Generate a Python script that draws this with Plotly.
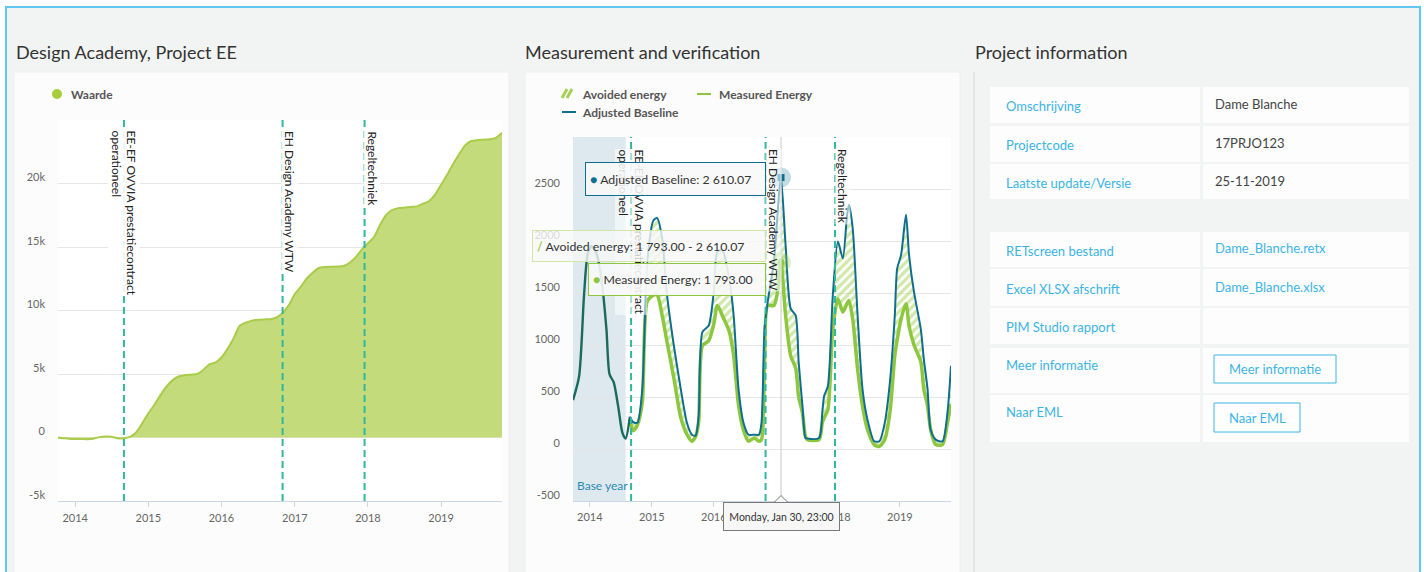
import plotly.graph_objects as go
import pandas as pd

W, H = 1424, 572
def px(x): return x / W
def py(y): return 1 - y / H

FONT = "Lato, 'Open Sans', sans-serif"

# ---------------- data: left chart (cumulative value, monthly) ----------------
waarde_values = [
    0, -50, -100,
    -120, -120, -130, -100, 30, 80, 60, -60, -60, 50, 400, 1100,
    1900, 2600, 3300, 4000, 4500, 4800, 4900, 4950, 5000, 5300, 5750, 5900,
    6300, 7000, 7800, 8800, 9050, 9200, 9270, 9300, 9320, 9450, 9800, 10400,
    11300, 11900, 12500, 13000, 13350, 13420, 13440, 13460, 13500, 13750, 14200, 14800,
    15300, 15800, 16700, 17500, 17900, 18050, 18100, 18150, 18200, 18400, 18600, 19100,
    19900, 20700, 21500, 22300, 23000, 23350, 23420, 23450, 23480, 23600, 24000,
]
waarde_dates = pd.date_range("2013-10-01", periods=len(waarde_values), freq="MS")

# ---------------- data: middle chart (measurement & verification) -------------
mv_dates = [
    "2013-09-24", "2013-10-30", "2013-11-28", "2013-12-20", "2014-01-11", "2014-02-09",
    "2014-03-10", "2014-04-09", "2014-04-27", "2014-05-22", "2014-06-17", "2014-07-12",
    "2014-07-31", "2014-08-25", "2014-09-13", "2014-10-08", "2014-11-06", "2014-12-05",
    "2015-01-11", "2015-02-02", "2015-03-03", "2015-04-01", "2015-05-11", "2015-06-21",
    "2015-07-27", "2015-08-25", "2015-09-16", "2015-10-04", "2015-10-26", "2015-12-02",
    "2016-01-01", "2016-01-22", "2016-02-20", "2016-04-01", "2016-04-27", "2016-05-26",
    "2016-06-24", "2016-07-23", "2016-08-25", "2016-09-23", "2016-10-08", "2016-10-26",
    "2016-11-14", "2016-12-20", "2017-01-19", "2017-01-30 23:00", "2017-02-27", "2017-03-29",
    "2017-04-27", "2017-05-15", "2017-06-06", "2017-06-24", "2017-07-05", "2017-09-12",
    "2017-10-01", "2017-10-12", "2017-11-03", "2017-12-02", "2018-01-01", "2018-01-30",
    "2018-02-24", "2018-03-07", "2018-03-29", "2018-04-27", "2018-05-26", "2018-06-24",
    "2018-08-03", "2018-09-02", "2018-10-04", "2018-11-03", "2018-12-02", "2018-12-16",
    "2019-01-08", "2019-02-06", "2019-02-24", "2019-03-25", "2019-05-04", "2019-05-22",
    "2019-06-13", "2019-07-01", "2019-07-31", "2019-09-09", "2019-10-08", "2019-10-29",
]
adjusted_baseline = [
    470, 700, 1480, 1880, 1950, 1880,
    1640, 1150, 720, 640, 410, 155,
    100, 310, 258, 252, 574, 1800,
    2200, 2220, 2026, 1477, 993, 574,
    252, 138, 129, 316, 1123, 1187,
    1510, 1897, 1913, 1639, 1284, 574,
    252, 138, 138, 138, 252, 1155,
    1420, 1800, 2445, 2610.07, 1961, 1349,
    1284, 833, 420, 106, 100, 106,
    350, 509, 606, 1477, 1994, 1833,
    2252, 2349, 2123, 1284, 574, 284,
    74, 74, 252, 639, 1284, 1735,
    1865, 2252, 1865, 1510, 1155, 864,
    574, 187, 90, 74, 348, 800,
]
measured_energy = [
    None, None, None, None, None, None,
    None, None, None, None, None, None,
    None, 290, 175, 230, 450, 1420,
    1480, 1480, 1284, 1026, 680, 300,
    140, 74, 120, 260, 993, 1040,
    1200, 1380, 1284, 1130, 900, 420,
    180, 75, 106, 74, 90, 833,
    1380, 1380, 1600, 1793.00, 1284, 896,
    780, 500, 348, 120, 90, 90,
    252, 300, 380, 1155, 1445, 1316,
    1400, 1429, 1252, 768, 412, 187,
    42, 25, 90, 348, 896, 1050,
    1250, 1397, 1180, 1000, 840, 574,
    412, 187, 42, 42, 252, 430,
]

event_dates = ["2014-09-01", "2016-11-01", "2017-12-15"]
event_labels = ["EE-EF OVVIA prestatiecontract<br>operationeel", "EH Design Academy WTW", "Regeltechniek"]
base_year_end = "2014-07-31"
hover_date = "2017-01-30 23:00"

year_ticks = ["2014-01-01", "2015-01-01", "2016-01-01", "2017-01-01", "2018-01-01", "2019-01-01"]
year_labels = ["2014", "2015", "2016", "2017", "2018", "2019"]
left_yticks = [-5000, 0, 5000, 10000, 15000, 20000, 25000]
left_ylabels = ["-5k", "0", "5k", "10k", "15k", "20k", ""]
mid_yticks = [-500, 0, 500, 1000, 1500, 2000, 2500, 3000]
mid_ylabels = ["-500", "0", "500", "1000", "1500", "2000", "2500", ""]

info_rows_1 = [("Omschrijving", "Dame Blanche"), ("Projectcode", "17PRJO123"),
               ("Laatste update/Versie", "25-11-2019")]
info_rows_2 = [("RETscreen bestand", "Dame_Blanche.retx"), ("Excel XLSX afschrift", "Dame_Blanche.xlsx"),
               ("PIM Studio rapport", ""), ("Meer informatie", "Meer informatie"), ("Naar EML", "Naar EML")]

# ---------------- colours ----------------
C_AREA_FILL = "#c3db7b"
C_AREA_LINE = "#a9cc4a"
C_MEAS = "#8dc63f"
C_BASE = "#0f6e90"
C_BASE_ZONE = "#1a6a5e"
C_HATCH = "#a4d257"
C_EVENT = "#2fb89c"
C_GRID = "#e6e6e6"
C_AXIS = "#ccd6eb"
C_LINK = "#3cb4e5"

fig = go.Figure()

# left chart
fig.add_trace(go.Scatter(
    x=waarde_dates, y=waarde_values, name="Waarde", mode="lines",
    fill="tozeroy", fillcolor=C_AREA_FILL,
    line=dict(color=C_AREA_LINE, width=2, shape="spline", smoothing=0.6),
    xaxis="x", yaxis="y", hoverinfo="skip"))

# middle chart
i0 = next(i for i, v in enumerate(measured_energy) if v is not None)
fig.add_trace(go.Scatter(
    x=mv_dates[i0:], y=measured_energy[i0:], mode="lines",
    line=dict(width=0, shape="spline", smoothing=0.7, color="rgba(0,0,0,0)"),
    xaxis="x2", yaxis="y2", hoverinfo="skip"))
fig.add_trace(go.Scatter(
    x=mv_dates[i0:], y=adjusted_baseline[i0:], name="Avoided energy", mode="lines",
    fill="tonexty", fillcolor="rgba(0,0,0,0)",
    fillpattern=dict(shape="/", fgcolor=C_HATCH, bgcolor="rgba(0,0,0,0)", size=6, solidity=0.55),
    line=dict(width=0, shape="spline", smoothing=0.7, color="rgba(0,0,0,0)"),
    xaxis="x2", yaxis="y2", hoverinfo="skip"))
fig.add_trace(go.Scatter(
    x=mv_dates, y=measured_energy, name="Measured Energy", mode="lines",
    line=dict(color=C_MEAS, width=3.5, shape="spline", smoothing=0.7),
    xaxis="x2", yaxis="y2", hoverinfo="skip"))
fig.add_trace(go.Scatter(
    x=mv_dates[:i0 + 1], y=adjusted_baseline[:i0 + 1], mode="lines",
    line=dict(color=C_BASE_ZONE, width=2.4, shape="spline", smoothing=0.7),
    xaxis="x2", yaxis="y2", hoverinfo="skip"))
fig.add_trace(go.Scatter(
    x=mv_dates[i0:], y=adjusted_baseline[i0:], name="Adjusted Baseline", mode="lines",
    line=dict(color=C_BASE, width=2, shape="spline", smoothing=0.7),
    xaxis="x2", yaxis="y2", hoverinfo="skip"))

hi = mv_dates.index(hover_date)
fig.add_trace(go.Scatter(
    x=[mv_dates[hi], mv_dates[hi]], y=[adjusted_baseline[hi], measured_energy[hi]], mode="markers",
    marker=dict(size=20, color=["rgba(15,110,144,0.25)", "rgba(141,198,63,0.3)"]),
    xaxis="x2", yaxis="y2", hoverinfo="skip"))
fig.add_trace(go.Scatter(
    x=[mv_dates[hi], mv_dates[hi]], y=[adjusted_baseline[hi], measured_energy[hi]], mode="markers",
    marker=dict(size=7, color=[C_BASE, C_MEAS], symbol=["square", "circle"]),
    xaxis="x2", yaxis="y2", hoverinfo="skip"))

shapes = []
annotations = []

# page frame and cards
shapes.append(dict(type="rect", xref="paper", yref="paper", x0=px(6), x1=px(1420), y0=py(590), y1=py(7),
                   fillcolor="#f2f3f3", line=dict(color="#62c7ef", width=2), layer="below"))
for x0, x1 in [(14, 509), (525, 960)]:
    shapes.append(dict(type="rect", xref="paper", yref="paper", x0=px(x0), x1=px(x1), y0=py(590), y1=py(72),
                       fillcolor="#fcfcfc", line=dict(color="#eeeeee", width=1), layer="below"))
for x0, x1, y0, y1 in [(58, 502, 120, 501), (573, 951, 137, 501)]:
    shapes.append(dict(type="rect", xref="paper", yref="paper", x0=px(x0), x1=px(x1), y0=py(y1), y1=py(y0),
                       fillcolor="#ffffff", line=dict(width=0), layer="below"))
shapes.append(dict(type="line", xref="paper", yref="paper", x0=px(974), x1=px(974), y0=py(590), y1=py(72),
                   line=dict(color="#e4e4e4", width=2), layer="below"))

# base year band
shapes.append(dict(type="rect", xref="x2", yref="y2 domain", x0=mv_dates[0], x1=base_year_end, y0=0, y1=1,
                   fillcolor="#dde9ee", line=dict(width=0), layer="below"))

# event lines and labels
for d, lab in zip(event_dates, event_labels):
    for xr, yr, ys in [("x", "y domain", -10), ("x2", "y2 domain", -11)]:
        shapes.append(dict(type="line", xref=xr, yref=yr, x0=d, x1=d, y0=0, y1=1,
                           line=dict(color=C_EVENT, width=2, dash="7px,4px")))
        multi = "<br>" in lab
        annotations.append(dict(
            xref=xr, yref=yr, x=d, y=1, yanchor="top", yshift=ys,
            xanchor="center" if multi else "left", xshift=0 if multi else -1,
            text=lab, textangle=90, showarrow=False, align="left",
            font=dict(family=FONT, size=12, color="#222222"),
            bgcolor="rgba(255,255,255,0.55)" if xr == "x2" else "rgba(255,255,255,0.9)", borderpad=0))

# crosshair
shapes.append(dict(type="line", xref="x2", yref="y2 domain", x0=hover_date, x1=hover_date, y0=0, y1=1,
                   line=dict(color="#c8c8c8", width=1)))

annotations.append(dict(xref="x2", yref="y2 domain", x=mv_dates[0], y=0, xanchor="left", yanchor="bottom",
                        xshift=2, yshift=6, text="Base year", showarrow=False,
                        font=dict(family=FONT, size=12, color="#2b8bb5")))

# titles
for x, t in [(14, "Design Academy, Project EE"), (523, "Measurement and verification"), (973, "Project information")]:
    annotations.append(dict(xref="paper", yref="paper", x=px(x), y=py(52), xanchor="left", yanchor="middle",
                            text=t, showarrow=False, font=dict(family=FONT, size=18, color="#333333")))

# left legend
shapes.append(dict(type="circle", xref="paper", yref="paper", x0=px(52), x1=px(62), y0=py(99), y1=py(89),
                   fillcolor="#a6ce39", line=dict(width=0)))
annotations.append(dict(xref="paper", yref="paper", x=px(69), y=py(94), xanchor="left", yanchor="middle",
                        text="<b>Waarde</b>", showarrow=False, font=dict(family=FONT, size=12, color="#555555")))

# middle legend
for xa, xb in [(562, 567), (567, 572)]:
    shapes.append(dict(type="line", xref="paper", yref="paper", x0=px(xa), x1=px(xb), y0=py(98), y1=py(89),
                       line=dict(color=C_HATCH, width=3)))
shapes.append(dict(type="line", xref="paper", yref="paper", x0=px(697), x1=px(711), y0=py(94), y1=py(94),
                   line=dict(color=C_MEAS, width=2)))
shapes.append(dict(type="line", xref="paper", yref="paper", x0=px(562), x1=px(576), y0=py(112), y1=py(112),
                   line=dict(color=C_BASE, width=2)))
for x, y, t in [(580, 94, "Avoided energy"), (717, 94, "Measured Energy"), (580, 112, "Adjusted Baseline")]:
    annotations.append(dict(xref="paper", yref="paper", x=px(x), y=py(y), xanchor="left", yanchor="middle",
                            text="<b>%s</b>" % t, showarrow=False, font=dict(family=FONT, size=12, color="#555555")))

# tooltips
tb = adjusted_baseline[hi]
tm = measured_energy[hi]
fmt = lambda v: "{:,.2f}".format(v).replace(",", " ")
tips = [
    (179, 171, 24, C_BASE, "rgba(248,248,248,0.88)",
     "<span style='color:%s'>●</span> Adjusted Baseline: %s" % (C_BASE, fmt(tb))),
    (246, 224, 22, "#d3e6a6", "rgba(248,248,248,0.8)",
     "<span style='color:%s'><b>/</b></span> Avoided energy: %s - %s" % (C_HATCH, fmt(tm), fmt(tb))),
    (279.5, 168, 23, C_MEAS, "rgba(248,248,248,0.9)",
     "<span style='color:%s'>●</span> Measured Energy: %s" % (C_MEAS, fmt(tm))),
]
for yc, w, h, bc, bg, txt in tips:
    annotations.append(dict(xref="x2", yref="paper", x=hover_date, y=py(yc), xanchor="right", yanchor="middle",
                            xshift=-15, text=txt, showarrow=False, align="left", width=w, height=h,
                            bgcolor=bg, bordercolor=bc, borderwidth=1, borderpad=4,
                            font=dict(family=FONT, size=12.3, color="#333333")))
annotations.append(dict(xref="x2", yref="y2 domain", x=hover_date, y=0, xanchor="center", yanchor="top",
                        yshift=-1, text="Monday, Jan 30, 23:00", showarrow=False, width=109, height=21,
                        bgcolor="#f7f7f7", bordercolor="#7a7a7a", borderwidth=1, borderpad=3,
                        font=dict(family=FONT, size=10.5, color="#333333")))
shapes.append(dict(type="path", xref="paper", yref="paper",
                   path="M %f %f L %f %f L %f %f Z" % (px(774), py(502.5), px(781), py(495.5), px(788), py(502.5)),
                   fillcolor="#f7f7f7", line=dict(color="#7a7a7a", width=1)))

# project information table
def cell_row(y0, y1, label, value, button=False):
    shapes.append(dict(type="rect", xref="paper", yref="paper", x0=px(990), x1=px(1200), y0=py(y1), y1=py(y0),
                       fillcolor="#fdfdfd", line=dict(width=0), layer="below"))
    shapes.append(dict(type="rect", xref="paper", yref="paper", x0=px(1203), x1=px(1409), y0=py(y1), y1=py(y0),
                       fillcolor="#fdfdfd", line=dict(width=0), layer="below"))
    tall = (y1 - y0) > 40
    ty = y0 + 17 if tall else (y0 + y1) / 2 + 1
    annotations.append(dict(xref="paper", yref="paper", x=px(1004), y=py(ty), xanchor="left", yanchor="middle",
                            text=label, showarrow=False, font=dict(family=FONT, size=13, color=C_LINK)))
    if value and not button:
        col = C_LINK if "_" in value else "#444444"
        annotations.append(dict(xref="paper", yref="paper", x=px(1213), y=py(ty - 2), xanchor="left",
                                yanchor="middle", text=value, showarrow=False,
                                font=dict(family=FONT, size=13, color=col)))

rows1 = [(87, 123), (126, 162), (164, 199)]
for (y0, y1), (lab, val) in zip(rows1, info_rows_1):
    cell_row(y0, y1, lab, val)
rows2 = [(232, 267), (269, 306), (308, 344), (348, 393), (395, 442)]
for k, ((y0, y1), (lab, val)) in enumerate(zip(rows2, info_rows_2)):
    cell_row(y0, y1, lab, val, button=(k >= 3))

for (bx0, bx1, by0, by1), (lab, val) in zip([(1214, 1336, 355, 383), (1214, 1300, 403, 432)], info_rows_2[3:]):
    shapes.append(dict(type="rect", xref="paper", yref="paper", x0=px(bx0), x1=px(bx1), y0=py(by1), y1=py(by0),
                       fillcolor="#ffffff", line=dict(color=C_LINK, width=1)))
    annotations.append(dict(xref="paper", yref="paper", x=px((bx0 + bx1) / 2), y=py((by0 + by1) / 2),
                            xanchor="center", yanchor="middle", text=val, showarrow=False,
                            font=dict(family=FONT, size=13, color=C_LINK)))

axis_font = dict(family=FONT, size=11, color="#666666")
fig.update_layout(
    width=W, height=H, autosize=False,
    margin=dict(l=0, r=0, t=0, b=0, pad=0, autoexpand=False),
    paper_bgcolor="#ffffff", plot_bgcolor="rgba(0,0,0,0)",
    showlegend=False,
    font=dict(family=FONT),
    xaxis=dict(domain=[px(58), px(502)], anchor="y", type="date", range=["2013-10-07", "2019-11-01"],
               tickvals=year_ticks, ticktext=year_labels, ticks="outside", ticklen=5, tickcolor=C_AXIS,
               showline=True, linecolor=C_AXIS, linewidth=1, showgrid=False, zeroline=False,
               ticklabelstandoff=2, tickfont=axis_font, automargin=False),
    yaxis=dict(domain=[py(501), py(120)], anchor="x", range=[-5000, 25000],
               tickvals=left_yticks, ticktext=left_ylabels, gridcolor=C_GRID, zeroline=False,
               showline=False, ticks="", ticklabelstandoff=12, ticklabelshift=-6, tickfont=axis_font,
               automargin=False),
    xaxis2=dict(domain=[px(573), px(951)], anchor="y2", type="date", range=["2013-09-24", "2019-10-29"],
                tickvals=year_ticks, ticktext=year_labels, ticks="outside", ticklen=5, tickcolor=C_AXIS,
                showline=True, linecolor=C_AXIS, linewidth=1, showgrid=False, zeroline=False,
                ticklabelstandoff=1, tickfont=axis_font, automargin=False),
    yaxis2=dict(domain=[py(501), py(137)], anchor="x2", range=[-500, 3000],
                tickvals=mid_yticks, ticktext=mid_ylabels, gridcolor=C_GRID, zeroline=False,
                showline=False, ticks="", ticklabelstandoff=12, ticklabelshift=-6, tickfont=axis_font,
                automargin=False),
    shapes=shapes,
    annotations=annotations,
)

fig.write_html(
    "out.html", config={"displayModeBar": False, "staticPlot": True},
    post_script=("document.documentElement.style.margin='0px';document.documentElement.style.overflow='hidden';"
                 "document.body.style.margin='0px';document.body.style.overflow='hidden';"
                 "document.body.style.height='572px';"))
